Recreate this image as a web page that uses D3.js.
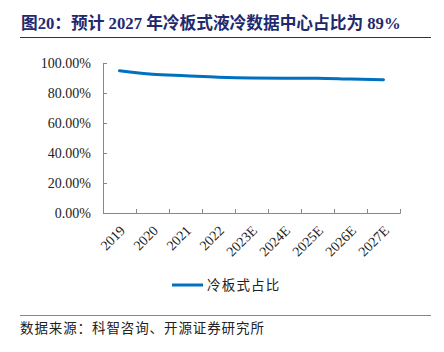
<!DOCTYPE html>
<html>
<head>
<meta charset="utf-8">
<script src="https://cdn.jsdelivr.net/npm/d3@7"></script>
<style>
  body { margin: 0; background: #fff; }
  svg { display: block; }
</style>
</head>
<body>
<div class="chart"></div>
<script>
// data
var years = ['2019', '2020', '2021', '2022', '2023E', '2024E', '2025E', '2026E', '2027E'];
var share = [0.948, 0.925, 0.915, 0.905, 0.90, 0.899, 0.899, 0.893, 0.888];
var yTicks = [0, 0.2, 0.4, 0.6, 0.8, 1.0];

var W = 444, H = 352;
var margin = { top: 63, left: 103 };
var width = 297, height = 150;

var serif = '"Liberation Serif", "Times New Roman", "Noto Sans CJK SC", serif';
var cjk = '"Noto Sans CJK SC", sans-serif';

var root = d3.select('.chart')
  .append('svg')
    .attr('width', W)
    .attr('height', H);

// title
root.append('text')
  .attr('x', 21)
  .attr('y', 29)
  .style('font-family', serif)
  .style('font-size', '16.7px')
  .style('font-weight', 'bold')
  .style('fill', '#1f2a6e')
  .text('图20：预计 2027 年冷板式液冷数据中心占比为 89%');

root.append('line')
  .attr('x1', 20).attr('x2', 431)
  .attr('y1', 37.5).attr('y2', 37.5)
  .style('stroke', '#333')
  .style('stroke-width', 1.2);

var svg = root.append('g')
  .attr('transform', `translate(${margin.left}, ${margin.top})`);

// scales
var yScale = d3.scaleLinear().domain([0, 1]).range([height, 0]);
var xBand = d3.scaleBand().domain(years).range([0, width]);
var xEdge = d3.scaleLinear().domain([0, years.length]).range([0, width]);

// y axis
var yAxis = d3.axisLeft(yScale)
  .tickValues(yTicks)
  .tickFormat(d3.format('.2%'))
  .tickSize(-4)
  .tickPadding(12);
var gy = svg.append('g').call(yAxis);
gy.selectAll('path, line').style('stroke', '#888');
gy.selectAll('text')
  .style('font-family', serif)
  .style('font-size', '14px')
  .style('fill', '#222');

// x axis: ticks at category edges
var xTicks = d3.axisBottom(xEdge)
  .tickValues(d3.range(years.length + 1))
  .tickFormat('')
  .tickSize(-4)
  .tickSizeOuter(-4);
var gx = svg.append('g')
  .attr('transform', `translate(0, ${height})`)
  .call(xTicks);
gx.selectAll('path, line').style('stroke', '#888');

// x labels at category centers
var xLabels = d3.axisBottom(xBand).tickSize(0);
var gl = svg.append('g')
  .attr('transform', `translate(0, ${height})`)
  .call(xLabels);
gl.select('.domain').remove();
gl.selectAll('text')
  .style('font-family', serif)
  .style('font-size', '14px')
  .style('fill', '#222')
  .attr('text-anchor', 'end')
  .attr('dy', '0.35em')
  .attr('transform', 'translate(3, 15) rotate(-45)')
  .attr('y', 0)
  .attr('x', 0);

// line
var line = d3.line()
  .x(function(d, i) { return xBand(years[i]) + xBand.bandwidth() / 2; })
  .y(function(d) { return yScale(d); })
  .curve(d3.curveMonotoneX);

svg.append('path')
  .datum(share)
  .attr('d', line)
  .style('fill', 'none')
  .style('stroke', '#0070c0')
  .style('stroke-width', 3)
  .style('stroke-linecap', 'round');

// legend
var leg = root.append('g').attr('transform', 'translate(172, 285)');
leg.append('line')
  .attr('x1', 0).attr('x2', 31)
  .style('stroke', '#0070c0')
  .style('stroke-width', 3);
leg.append('text')
  .attr('x', 35)
  .attr('dy', '0.35em')
  .style('font-family', cjk)
  .style('font-size', '13.5px')
  .style('letter-spacing', '1.2px')
  .style('fill', '#222')
  .text('冷板式占比');

// source
root.append('line')
  .attr('x1', 20).attr('x2', 431)
  .attr('y1', 315.5).attr('y2', 315.5)
  .style('stroke', '#888')
  .style('stroke-width', 1.2);

root.append('text')
  .attr('x', 20)
  .attr('y', 333)
  .style('font-family', cjk)
  .style('font-size', '13.5px')
  .style('letter-spacing', '0.9px')
  .style('fill', '#222')
  .text('数据来源：科智咨询、开源证券研究所');
</script>
</body>
</html>
